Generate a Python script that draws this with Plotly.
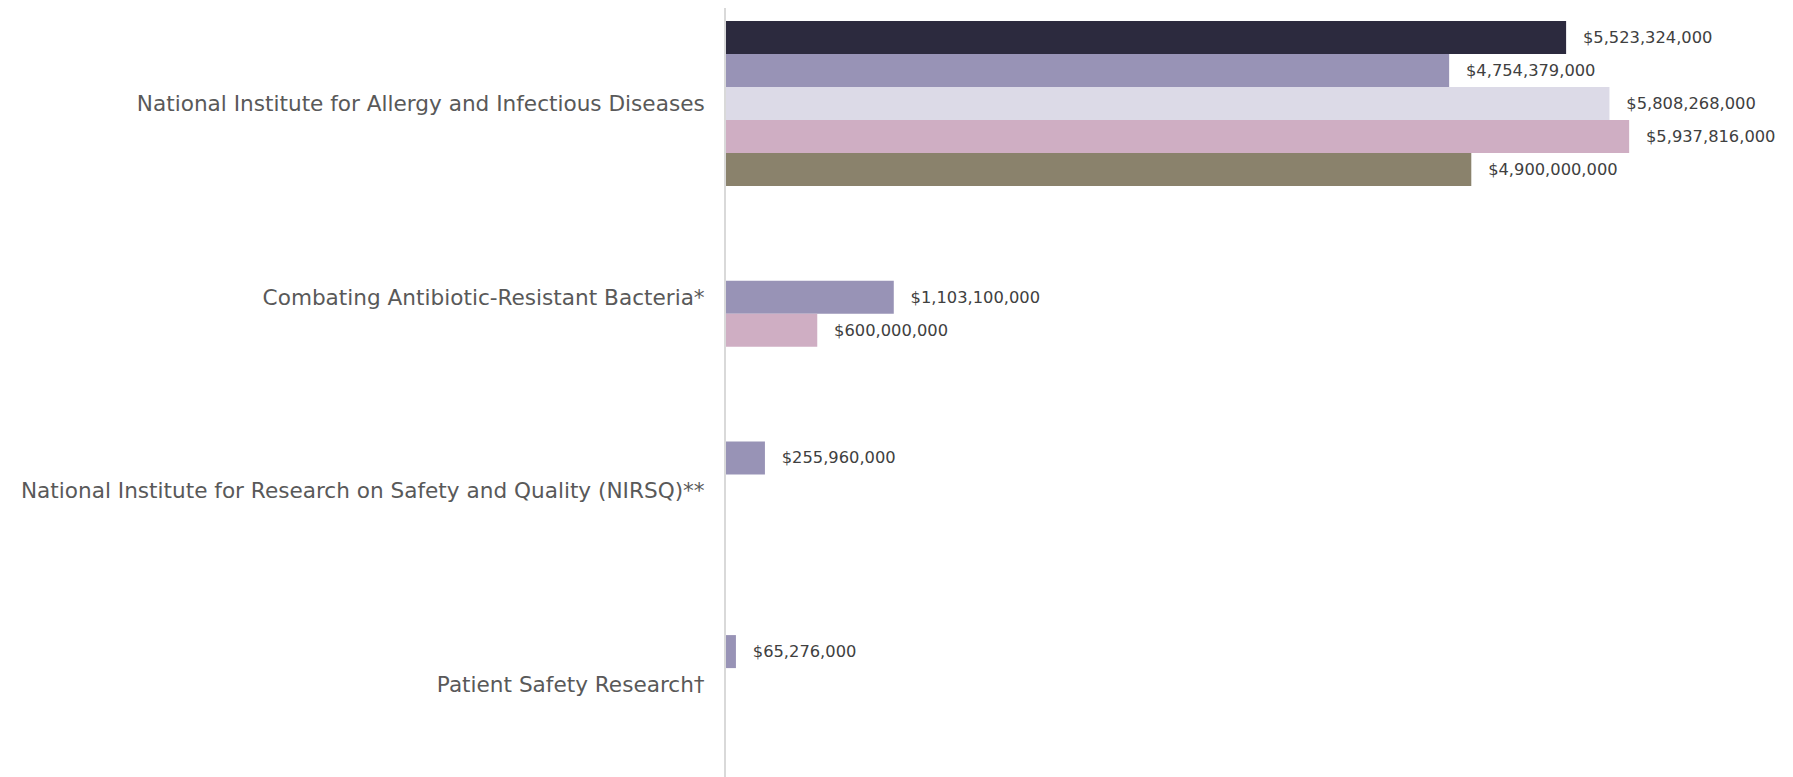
import plotly.graph_objects as go

categories = [
    "National Institute for Allergy and Infectious Diseases",
    "Combating Antibiotic-Resistant Bacteria*",
    "National Institute for Research on Safety and Quality (NIRSQ)**",
    "Patient Safety Research†",
]

# five bar slots per category (top to bottom)
slot1 = [5523324000, None, None, None]
slot2 = [4754379000, None, 255960000, 65276000]
slot3 = [5808268000, 1103100000, None, None]
slot4 = [5937816000, 600000000, None, None]
slot5 = [4900000000, None, None, None]

DARK = "#2c2a3e"
PURPLE = "#9893b6"
LAVENDER = "#dcdae7"
PINK = "#cfaec3"
OLIVE = "#8a826c"

slot_colors = [
    [DARK] * 4,
    [PURPLE] * 4,
    [LAVENDER, PURPLE, LAVENDER, LAVENDER],
    [PINK] * 4,
    [OLIVE] * 4,
]
slots = [slot1, slot2, slot3, slot4, slot5]

fig = go.Figure()
for vals, cols in zip(slots, slot_colors):
    fig.add_trace(go.Bar(
        x=vals, y=categories, orientation="h",
        marker=dict(color=cols, line=dict(width=0)),
        texttemplate="\u2002\u2005\u200a$%{x:,.0f}",
        textposition="outside",
        constraintext="none",
        cliponaxis=False,
        textfont=dict(family="DejaVu Sans", size=16.3, color="#404040"),
        showlegend=False,
        hoverinfo="skip",
    ))

fig.update_layout(
    width=1785, height=769,
    barmode="group", bargap=0.148, bargroupgap=0,
    margin=dict(l=718, r=0, t=0, b=0, pad=0),
    plot_bgcolor="white", paper_bgcolor="white",
    font=dict(family="DejaVu Sans"),
    xaxis=dict(visible=False, range=[0, 7.015e9], showgrid=False, zeroline=False),
    yaxis=dict(
        type="category", range=[3.477, -0.493], automargin=False,
        showline=True, linecolor="#d9d9d9", linewidth=2,
        showgrid=False, zeroline=False, ticks="",
        ticklabelstandoff=15,
        tickfont=dict(family="DejaVu Sans", size=21.6, color="#595959"),
    ),
)

fig.write_html("out.html")
